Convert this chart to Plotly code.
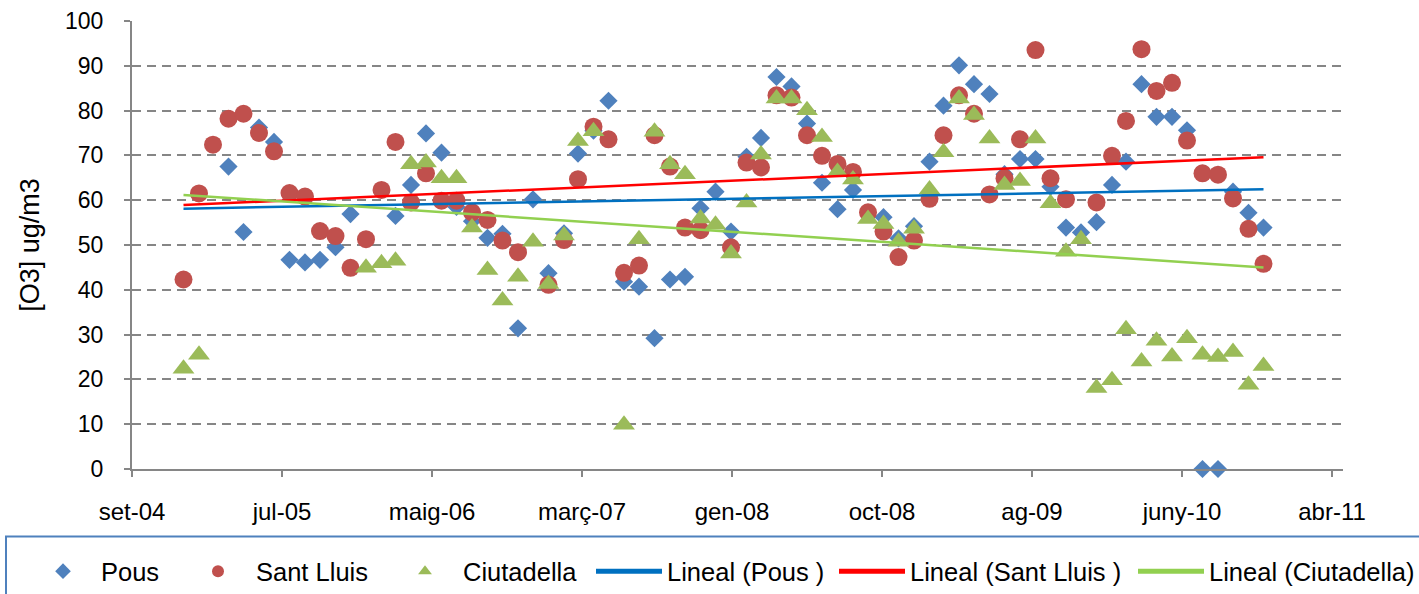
import numpy as np
import pandas as pd
import plotly.graph_objects as go

N = None
# monthly samples, Jan 2005 .. Dec 2010
months = pd.date_range("2005-01-01", "2010-12-01", freq="MS")

pous = [N, N, N, 67.5, 52.9, 76.2, 73.0, 46.7, 46.1, 46.7, 49.5, 56.9,
        N, N, 56.5, 63.4, 74.9, 70.6, 58.5, 55.3, 51.6, 52.5, 31.4, 60.2,
        43.7, 52.6, 70.4, 75.5, 82.2, 41.8, 40.7, 29.2, 42.3, 42.9, 58.2, 61.9,
        53.0, 69.7, 73.9, 87.5, 85.4, 77.1, 63.9, 58.0, 62.3, N, 56.2, 51.5,
        54.2, 68.6, 81.1, 90.1, 85.9, 83.7, 65.8, 69.2, 69.2, 63.0, 53.9, 52.8,
        55.1, 63.4, 68.6, 85.9, 78.6, 78.6, 75.6, 0.0, 0.0, 61.9, 57.2, 53.9]

sant_lluis = [42.3, 61.5, 72.4, 78.2, 79.3, 75.0, 70.9, 61.6, 60.8, 53.1, 52.0, 44.9,
              51.3, 62.3, 73.0, 59.5, 66.0, 59.9, 59.9, 57.3, 55.6, 51.0, 48.4, N,
              41.1, 51.1, 64.7, 76.4, 73.6, 43.8, 45.4, 74.5, 67.5, 53.9, 53.3, N,
              49.5, 68.4, 67.3, 83.4, 82.9, 74.5, 69.9, 68.1, 66.3, 57.3, 53.0, 47.3,
              51.0, 60.3, 74.5, 83.4, 79.3, 61.3, 64.9, 73.6, 93.5, 64.9, 60.2, N,
              59.5, 69.9, 77.7, 93.7, 84.4, 86.2, 73.3, 66.0, 65.7, 60.4, 53.6, 45.8]

ciutadella = [22.4, 25.5, N, N, N, N, N, N, N, N, N, N,
              44.9, 45.9, 46.5, 68.0, 68.4, 64.9, 64.9, 53.9, 44.4, 37.6, 42.9, 50.7,
              41.3, 52.1, 73.2, 75.4, N, 9.9, 51.3, 75.3, 68.0, 65.8, 55.9, 54.5,
              48.1, 59.5, 70.2, 82.7, 82.7, 80.1, 74.1, 66.3, 64.6, 55.8, 54.7, 50.7,
              53.6, 62.4, 70.7, 82.7, 79.0, 73.8, 63.4, 64.3, 73.8, 59.3, 48.5, 51.3,
              18.1, 19.8, 31.2, 24.0, 28.6, 25.1, 29.2, 25.5, 25.0, 26.1, 18.8, 23.0]

series_names = ["Pous", "Sant Lluis", "Ciutadella"]
trend_names = ["Lineal (Pous )", "Lineal (Sant Lluis )", "Lineal (Ciutadella)"]

tick_dates = pd.date_range("2004-09-20", periods=9, freq="300D")
tick_labels = ["set-04", "jul-05", "maig-06", "març-07", "gen-08",
               "oct-08", "ag-09", "juny-10", "abr-11"]
x_range = [pd.Timestamp("2004-09-20"), pd.Timestamp("2011-05-09")]

# ---- geometry (pixels) ----
W, H = 1419, 594
L, R, T, B = 132, 1343, 20.7, 469.3


def xp(px):
    return (px - L) / (R - L)


def yp(py):
    return (B - py) / (B - T)


def trend(vals):
    x = np.array([(d - months[0]).days for d in months], float)
    y = np.array([np.nan if v is None else v for v in vals], float)
    m = ~np.isnan(y)
    a, b = np.polyfit(x[m], y[m], 1)
    return [a * x[0] + b, a * x[-1] + b]


marker_colors = ["#4F81BD", "#C0504D", "#9BBB59"]
symbols = ["diamond", "circle", "triangle-up"]
sizes = [14, 18, 19]
trend_colors = ["#0070C0", "#FF0000", "#92D050"]

fig = go.Figure()
data = [pous, sant_lluis, ciutadella]
for i in range(3):
    fig.add_trace(go.Scatter(
        x=months, y=data[i], mode="markers", name=series_names[i],
        marker=dict(symbol=symbols[i], size=sizes[i], color=marker_colors[i],
                    line=dict(width=0)),
        cliponaxis=False, legend="legend" if i == 0 else f"legend{i + 1}"))
for i in range(3):
    fig.add_trace(go.Scatter(
        x=[months[0], months[-1]], y=trend(data[i]), mode="lines",
        name=trend_names[i], line=dict(color=trend_colors[i], width=2.5),
        legend=f"legend{i + 4}"))

# legend text start positions in px
text_starts = [101, 256, 463, 667, 910, 1209]
item_w = 66
legend_common = dict(orientation="h", xanchor="left", yanchor="middle",
                     y=yp(572), bgcolor="rgba(0,0,0,0)", borderwidth=0,
                     itemwidth=item_w, itemsizing="constant",
                     font=dict(family="Liberation Sans, Arial, sans-serif",
                               size=25.5, color="black"))
legends = {}
for k, ts in enumerate(text_starts):
    key = "legend" if k == 0 else f"legend{k + 1}"
    legends[key] = dict(legend_common, x=xp(ts - (item_w + 10)))

axis_col = "#868686"
fig.update_layout(
    width=W, height=H,
    margin=dict(l=L, r=W - R, t=T, b=H - B, pad=0, autoexpand=False),
    paper_bgcolor="white", plot_bgcolor="white",
    font=dict(family="Liberation Sans, Arial, sans-serif", color="black"),
    showlegend=True,
    xaxis=dict(type="date", range=x_range, tickvals=tick_dates, ticktext=tick_labels,
               showgrid=False, zeroline=False, showline=True, linecolor=axis_col,
               linewidth=2, ticks="outside", ticklen=6, tickwidth=2, tickcolor=axis_col,
               tickfont=dict(size=24, color="black"), ticklabelstandoff=14,
               automargin=False),
    yaxis=dict(range=[0, 100], tick0=0, dtick=10, showgrid=True, gridcolor=axis_col,
               gridwidth=2, griddash="9px,6px", zeroline=False, showline=True,
               linecolor=axis_col, linewidth=2, ticks="outside", ticklen=6, tickwidth=2,
               tickcolor=axis_col, tickfont=dict(size=23, color="black"),
               ticklabelstandoff=16, automargin=False,
               title=dict(text="[O3] ug/m3", font=dict(size=27, color="black"),
                          standoff=18)),
    shapes=[dict(type="rect", xref="paper", yref="paper",
                 x0=xp(6), x1=xp(1430), y0=yp(537), y1=yp(605),
                 line=dict(color="#4F81BD", width=2), fillcolor="rgba(0,0,0,0)")],
    **legends,
)

fig.write_html("out.html", config={"displayModeBar": False},
               post_script="document.body.style.margin='0px';")
